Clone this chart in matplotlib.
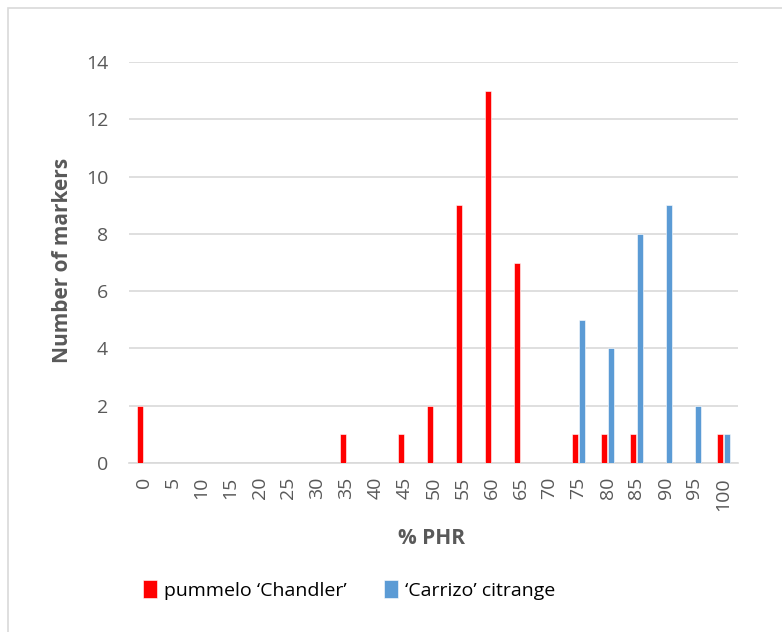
import matplotlib
matplotlib.use("Agg")
import matplotlib.pyplot as plt
from matplotlib.patches import Rectangle
import numpy as np

plt.rcParams['font.family'] = ['Open Sans', 'DejaVu Sans']

categories = [str(v) for v in range(0, 101, 5)]
pummelo = [2, 0, 0, 0, 0, 0, 0, 1, 0, 1, 2, 9, 13, 7, 0, 1, 1, 1, 0, 0, 1]
carrizo = [0, 0, 0, 0, 0, 0, 0, 0, 0, 0, 0, 0, 0, 0, 0, 5, 4, 8, 9, 2, 1]
series_names = ["pummelo \u2018Chandler\u2019", "\u2018Carrizo\u2019 citrange"]
colors = ["#ff0000", "#5b9bd5"]

fig = plt.figure(figsize=(7.82, 6.32), dpi=100)
fig.patches.append(Rectangle((8 / 782, -0.01), 1.0, 1 - 8 / 632 + 0.01, transform=fig.transFigure,
                             fill=False, edgecolor="#d9d9d9", linewidth=1.2))
ax = fig.add_axes([129 / 782, 1 - 463 / 632, (738 - 129) / 782, (463 - 62) / 632])

x = np.arange(len(categories))
w = 0.22
ax.bar(x - 0.13, pummelo, width=w, color=colors[0], label=series_names[0], zorder=3,
       edgecolor="white", linewidth=0.4)
ax.bar(x + 0.13, carrizo, width=w, color=colors[1], label=series_names[1], zorder=3,
       edgecolor="white", linewidth=0.4)

ax.set_xlim(-0.5, len(categories) - 0.5)
ax.set_ylim(0, 14)
ax.set_yticks(range(0, 15, 2))
ax.set_xticks(x)
ax.set_xticklabels(categories, rotation=90, fontsize=14, color="#595959")
ax.tick_params(axis='y', labelsize=14, labelcolor="#595959", length=0, pad=15)
ax.tick_params(axis='x', length=0, pad=10)
ax.grid(axis='y', color="#d9d9d9", linewidth=1.2, zorder=0)
for s in ["top", "right", "left"]:
    ax.spines[s].set_visible(False)
ax.spines["bottom"].set_color("#d9d9d9")
ax.spines["bottom"].set_linewidth(1.2)

fig.text(62 / 782, 1 - 260 / 632, "Number of markers", rotation=90, ha="center", va="center",
         fontsize=15, fontweight="bold", color="#595959")
fig.text(431 / 782, 1 - 538 / 632, "% PHR", ha="center", va="center",
         fontsize=15, fontweight="bold", color="#595959")

leg = fig.legend(loc="center", bbox_to_anchor=(349 / 782, 1 - 590 / 632), ncol=2, frameon=False,
                 fontsize=14, handlelength=0.75, handleheight=1.0, handletextpad=0.35,
                 columnspacing=1.9)
for t in leg.get_texts():
    t.set_color("#000000")

fig.savefig("out.png", dpi=100)
